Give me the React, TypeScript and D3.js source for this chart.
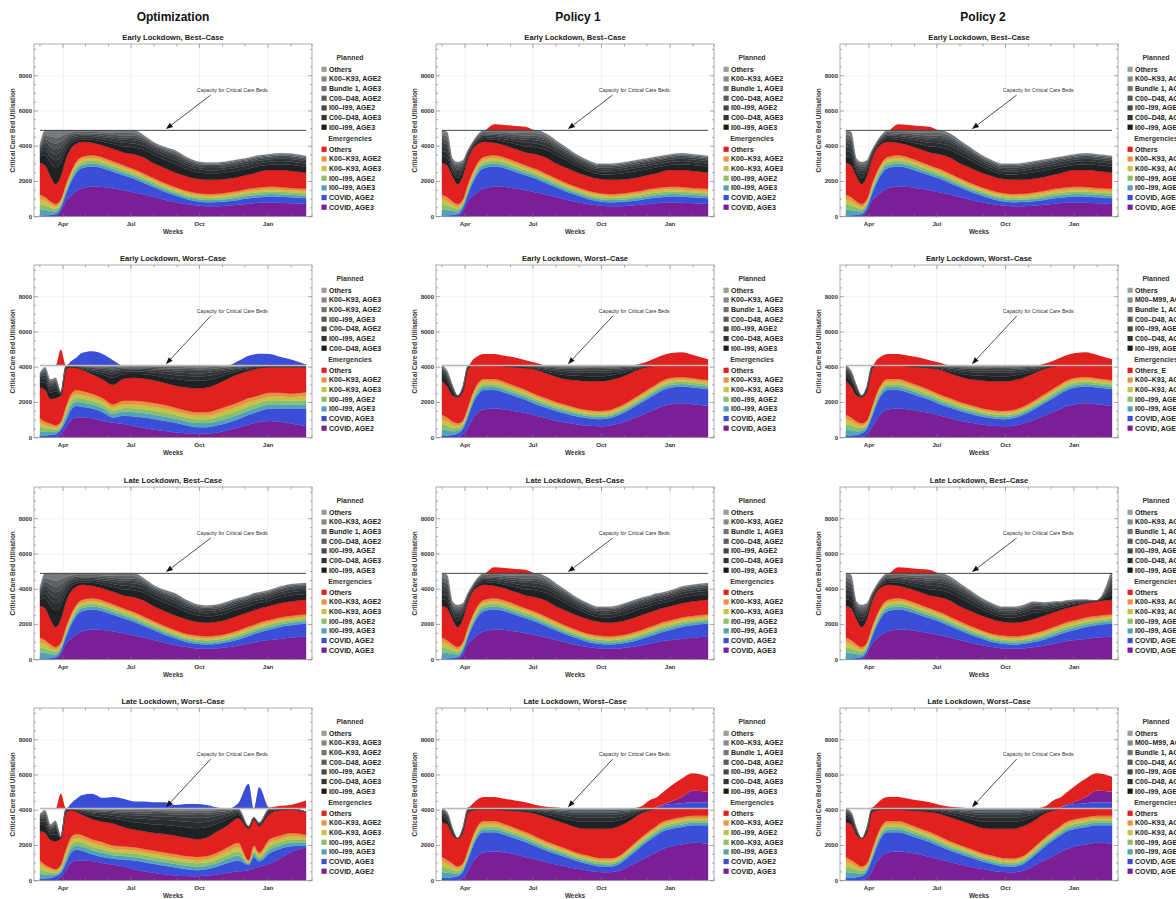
import React from "react";
import * as d3 from "d3";

// ---------- categories ----------
const DATES = ["2020-03-01","2020-03-08","2020-03-15","2020-03-22","2020-03-29","2020-04-05","2020-04-12","2020-04-19","2020-04-26","2020-05-10","2020-05-24","2020-06-07","2020-06-21","2020-07-05","2020-07-19","2020-08-02","2020-08-16","2020-08-30","2020-09-13","2020-09-27","2020-10-11","2020-10-25","2020-11-08","2020-11-22","2020-12-06","2020-12-13","2020-12-20","2021-01-03","2021-01-17","2021-01-31","2021-02-21"];
const X_DOMAIN = ["2020-02-22", "2021-03-01"];
const Y_MAX = 9800;
const Y_TICKS = [0, 2000, 4000, 6000, 8000];
const CAP_BEST = 4900;
const CAP_WORST = 4100;
const COLUMN_TITLES = ["Optimization", "Policy 1", "Policy 2"];
const ROW_TITLES = ["Early Lockdown, Best–Case", "Early Lockdown, Worst–Case", "Late Lockdown, Best–Case", "Late Lockdown, Worst–Case"];
const CAPACITY_LABEL = "Capacity for Critical Care Beds";

// ---------- emergencies (values per layer, bottom -> top) ----------
const BAND_I3 = [350,300,220,150,130,150,160,170,170,170,165,160,155,150,145,140,135,130,130,125,125,125,130,135,140,140,145,145,145,140,140];
const BAND_I2 = [300,260,200,150,120,140,150,160,160,160,155,150,145,140,135,130,125,120,120,120,120,120,125,130,135,135,140,140,140,135,135];
const BAND_K3 = [300,250,190,140,120,140,150,155,155,155,150,145,140,135,130,125,120,115,115,115,115,115,120,125,130,130,135,135,135,130,130];
const BAND_K2 = [250,220,170,130,110,130,140,150,150,150,145,140,135,130,125,120,115,110,110,110,110,110,115,120,125,125,130,130,130,125,125];

const EB_COVID3 = [0,0,0,50,300,900,1200,1450,1600,1700,1680,1600,1500,1380,1250,1100,950,820,720,640,600,600,620,680,740,770,790,800,790,760,720];
const EB_COVID2 = [50,80,100,100,200,400,800,1050,1150,1150,1070,950,850,770,650,550,450,380,280,240,220,230,260,270,310,310,310,350,340,340,330];
const EB_OTHERS = [1800,1790,1420,1130,1320,1440,1300,1015,865,715,685,705,725,845,915,835,855,825,825,800,810,800,780,790,820,840,900,950,970,970,920];

const LB_COVID3 = [0,0,0,50,300,900,1200,1450,1600,1700,1680,1600,1500,1380,1250,1100,950,820,720,640,620,640,700,800,920,980,1040,1120,1180,1250,1300];
const LB_COVID2 = [50,80,100,100,200,400,800,1050,1150,1150,1070,950,850,770,650,550,450,380,280,260,240,260,300,350,430,470,510,580,670,700,750];
const LB_OTHERS = [1800,1790,1420,1130,1320,1440,1300,1015,865,715,685,705,725,845,915,835,855,825,825,780,770,780,810,840,820,820,800,800,800,820,820];

const EW_COVID3 = [0,0,0,30,200,600,1100,1450,1600,1650,1600,1500,1400,1250,1100,950,850,750,680,650,680,800,1000,1250,1500,1620,1750,1900,1950,1900,1800];
const EW_COVID2 = [100,120,150,220,300,600,900,1050,1100,1050,950,850,750,650,600,550,500,450,420,400,420,500,600,700,800,860,900,950,950,950,950];
const EW_OTHERS = [1900,1750,1470,1480,1620,2140,1500,965,765,765,885,1055,1225,1395,1415,1435,1455,1575,1625,1680,1680,1630,1560,1440,1220,1090,900,700,650,720,820];

const LW_COVID3 = [0,0,0,30,150,550,1100,1450,1600,1650,1600,1500,1350,1200,1050,900,780,680,560,500,480,560,850,1150,1450,1600,1750,1950,2050,2150,2100];
const LW_COVID2 = [150,150,200,220,350,650,900,1100,1150,1100,1000,900,850,750,650,600,520,420,390,320,320,390,550,750,900,950,1000,1000,1000,1000,1050];
const LW_OTHERS = [1950,2020,1620,1580,1720,2140,1400,865,665,665,785,955,1125,1295,1365,1385,1405,1425,1525,1660,1680,1680,1510,1390,1120,1020,800,600,500,420,420];

const OEW_COVID2 = [0,0,0,50,200,600,1000,1150,1150,1100,950,850,780,650,550,450,380,300,250,220,230,300,420,560,750,820,900,950,900,800,650];
const OEW_COVID3 = [100,120,150,150,250,400,600,650,600,550,500,300,470,550,600,600,570,550,450,380,370,400,430,490,550,580,600,700,750,850,1000];
const OEW_I3 = [280,210,180,140,120,220,240,240,240,230,220,200,230,240,240,240,240,230,230,230,230,240,250,250,250,250,240,240,240,230,250];
const OEW_I2 = [250,200,160,120,110,200,230,230,230,210,200,190,210,230,230,230,230,210,210,210,210,230,240,240,240,230,230,230,230,210,240];
const OEW_K3 = [250,190,160,120,110,190,220,220,220,210,200,190,210,220,220,220,220,210,210,210,210,220,240,240,240,230,220,220,220,210,240];
const OEW_K2 = [220,180,150,120,110,190,210,210,210,200,180,170,200,210,210,210,210,200,200,200,200,210,220,220,220,220,210,210,210,200,220];
const OEW_OTHERS = [1750,1800,1400,1550,1500,2100,1500,1250,1200,1100,1050,1100,1250,1300,1300,1300,1250,1250,1300,1350,1400,1450,1550,1600,1550,1550,1550,1450,1450,1500,1400];

const OLW_COVID2 = [0,0,0,30,200,600,1000,1150,1150,1100,1000,900,800,650,520,430,350,300,260,250,280,350,450,530,600,700,780,960,1250,1600,1900];
const OLW_COVID3 = [100,120,150,220,250,400,600,600,550,400,350,350,400,500,530,520,500,450,390,350,370,450,550,620,300,650,320,590,550,350,100];
const OLW_I3 = [300,220,170,110,120,220,240,240,240,230,230,200,200,200,200,200,200,200,200,200,200,210,240,260,60,170,130,210,200,200,160];
const OLW_I2 = [260,200,150,100,110,200,220,220,220,210,210,190,190,190,190,190,190,190,190,190,190,200,220,250,60,160,130,200,190,190,150];
const OLW_K3 = [260,190,150,100,110,190,220,220,220,210,210,180,180,180,180,180,180,180,180,180,180,200,220,250,60,160,120,200,180,180,150];
const OLW_K2 = [230,170,130,90,110,190,220,220,220,200,200,180,180,180,180,180,180,180,180,180,180,190,220,240,70,160,120,190,180,180,140];
const OLW_OTHERS = [1650,1800,1550,1600,1500,2100,1500,1250,1150,1150,1150,1250,1100,1000,1000,1000,1050,1050,1050,1000,1050,1200,1250,1400,1800,1500,1500,1450,1450,1350,1300];

// ---------- planned (values per layer, bottom = darkest -> top = lightest) ----------
const OB_P1 = [350,580,750,950,750,450,270,180,150,170,210,270,330,380,440,470,470,480,400,370,360,360,370,370,340,350,320,300,330,350,330];
const OB_P2 = [200,300,350,400,350,250,170,120,100,110,140,180,220,230,220,210,210,220,200,180,180,180,180,180,170,180,170,170,180,180,180];
const OB_P3 = [150,250,300,330,300,190,130,100,90,100,110,140,170,180,170,160,160,160,150,140,130,130,140,140,130,130,130,120,130,140,130];
const OB_P4 = [100,200,270,300,270,160,100,80,70,70,90,100,120,130,120,110,110,120,110,100,100,100,100,100,100,100,100,100,100,100,100];
const OB_P5 = [90,200,280,320,280,170,100,80,70,70,90,110,120,130,100,90,90,100,90,80,80,80,80,80,80,80,80,80,80,80,80];
const OB_P6 = [80,220,300,350,300,180,110,90,80,80,100,120,140,150,100,80,80,90,80,70,70,70,70,70,70,70,70,70,70,70,70];
const OB_P7 = [80,250,350,400,350,200,120,100,90,100,110,130,150,150,100,80,80,80,70,60,60,60,60,60,60,60,60,60,60,60,60];

const PB_P1 = [380,430,240,340,250,130,100,130,160,170,210,270,330,380,430,480,420,350,300,280,300,340,370,370,340,340,300,300,330,330,330];
const PB_P2 = [300,300,180,220,170,90,70,100,110,110,140,180,220,230,230,220,200,180,160,150,160,170,180,180,170,170,160,170,180,180,180];
const PB_P3 = [250,250,150,180,130,70,60,80,90,100,110,140,170,180,180,170,160,140,130,120,130,130,140,140,130,130,130,120,130,130,130];
const PB_P4 = [220,220,120,140,100,60,50,60,70,70,90,100,120,130,130,120,110,100,100,90,100,100,100,100,100,100,100,100,100,100,100];
const PB_P5 = [220,220,110,130,90,50,40,60,70,70,90,110,120,130,120,110,100,90,80,80,80,80,80,80,80,80,80,80,80,80,80];
const PB_P6 = [230,230,100,120,80,50,40,60,70,80,100,120,140,150,130,100,80,70,70,70,70,70,70,70,70,70,70,70,70,70,70];
const PB_P7 = [250,250,100,120,80,50,40,60,80,100,110,130,150,150,130,100,80,70,60,60,60,60,60,60,60,60,60,60,60,60,60];

const P2LB_P1 = [380,430,240,340,250,130,100,130,160,170,210,270,330,380,430,480,420,350,300,280,300,340,370,210,150,130,110,90,40,20,300];
const P2LB_P2 = [300,300,180,220,170,90,70,100,110,110,140,180,220,230,230,220,200,180,160,150,160,170,180,150,120,100,90,70,40,10,300];
const P2LB_P3 = [250,250,150,180,130,70,60,80,90,100,110,140,170,180,180,170,160,140,130,120,130,130,140,120,100,80,80,60,40,10,250];
const P2LB_P4 = [220,220,120,140,100,60,50,60,70,70,90,100,120,130,130,120,110,100,100,90,100,100,100,90,80,70,60,50,30,10,220];
const P2LB_P5 = [220,220,110,130,90,50,40,60,70,70,90,110,120,130,120,110,100,90,80,80,80,80,80,70,60,50,40,30,20,0,220];
const P2LB_P6 = [230,230,100,120,80,50,40,60,70,80,100,120,140,150,130,100,80,70,70,70,70,70,70,60,50,40,40,30,20,0,230];
const P2LB_P7 = [250,250,100,120,80,50,40,60,80,100,110,130,150,150,130,100,80,70,60,60,60,60,60,50,40,30,30,20,10,0,250];

const OEW_P1 = [300,440,350,370,50,50,20,20,50,130,270,400,250,220,250,270,320,380,410,430,410,350,250,160,80,70,20,20,20,20,20];
const OEW_P2 = [160,230,200,210,40,40,20,30,40,90,150,200,140,130,140,160,190,220,240,250,240,200,140,90,60,40,30,20,20,20,20];
const OEW_P3 = [120,170,150,160,30,30,20,20,40,70,110,150,100,100,100,120,140,160,170,180,170,150,100,70,40,30,20,20,20,20,20];
const OEW_P4 = [80,120,110,110,20,20,10,20,30,60,80,100,70,70,70,80,100,110,120,120,120,100,70,50,30,20,20,10,10,10,10];
const OEW_P5 = [70,110,100,100,20,20,10,20,30,50,70,90,70,60,70,80,90,100,110,110,110,90,70,50,30,20,20,10,10,10,10];
const OEW_P6 = [60,110,90,100,20,20,10,20,30,50,60,80,60,60,60,70,80,90,100,100,100,80,60,40,30,20,20,10,10,10,10];
const OEW_P7 = [60,120,100,100,20,20,10,20,30,50,60,80,60,60,60,70,80,90,100,110,100,80,60,40,30,20,20,10,10,10,10];

const OLW_P1 = [380,440,280,370,20,50,20,50,110,200,260,280,360,420,460,490,510,550,580,630,580,440,320,190,50,20,50,110,20,20,0];
const OLW_P2 = [180,230,170,210,20,40,20,40,70,110,140,160,200,230,250,270,280,300,320,340,320,260,190,110,30,20,40,60,20,10,0];
const OLW_P3 = [130,170,120,160,20,30,20,30,50,80,100,120,150,170,180,200,210,220,240,250,240,190,140,80,20,20,30,40,20,10,0];
const OLW_P4 = [90,120,90,110,10,20,10,20,30,60,70,80,100,110,120,130,130,140,150,160,150,120,90,50,20,10,20,30,10,10,0];
const OLW_P5 = [80,110,80,100,10,20,10,20,30,50,60,70,80,90,100,110,110,120,130,130,130,100,70,40,10,10,20,20,10,0,0];
const OLW_P6 = [70,110,80,100,10,20,10,20,30,50,60,70,80,90,100,100,110,110,120,120,120,100,70,40,10,10,20,20,10,0,0];
const OLW_P7 = [70,120,80,100,10,20,10,20,30,50,60,70,80,90,90,100,100,110,110,120,110,90,70,40,10,10,20,20,10,0,0];

const PEW_P1 = [300,300,200,20,100,50,20,20,20,20,20,20,20,50,110,180,240,260,290,290,270,230,110,40,20,20,20,20,20,20,20];
const PEW_P2 = [170,170,110,20,60,40,10,10,10,10,10,30,40,60,100,140,170,180,190,190,180,140,100,40,10,10,10,10,10,10,10];
const PEW_P3 = [120,120,80,20,40,30,10,10,10,10,10,20,30,40,70,100,120,130,130,130,120,100,70,30,10,10,10,10,10,10,10];
const PEW_P4 = [90,90,60,10,30,20,10,10,10,10,10,20,20,30,50,70,80,90,90,90,90,70,50,30,10,10,10,10,10,10,10];
const PEW_P5 = [80,80,50,10,30,20,10,10,10,10,10,10,20,30,40,60,70,70,70,70,70,60,40,20,10,10,10,10,10,10,10];
const PEW_P6 = [70,70,50,10,20,20,10,10,10,10,10,10,20,20,40,50,60,60,70,70,60,50,40,20,10,10,10,10,10,10,10];
const PEW_P7 = [70,70,50,10,20,20,10,10,10,10,10,10,20,20,40,50,60,60,60,60,60,50,40,20,10,10,10,10,10,10,10];

const PLW_P1 = [260,210,100,0,100,50,20,20,20,20,20,40,50,100,160,230,280,360,390,390,390,330,230,100,30,0,0,0,0,0,0];
const PLW_P2 = [160,140,80,0,60,40,20,10,10,10,20,30,40,60,100,140,180,220,230,230,230,200,140,60,20,0,0,0,0,0,0];
const PLW_P3 = [110,100,60,0,40,30,20,10,10,10,20,30,30,40,70,100,130,160,170,170,170,150,100,40,10,0,0,0,0,0,0];
const PLW_P4 = [80,70,40,0,30,20,10,10,10,10,10,20,20,30,50,70,90,110,110,110,110,100,70,30,10,0,0,0,0,0,0];
const PLW_P5 = [70,60,40,0,30,20,10,10,10,10,10,10,20,30,40,60,80,90,90,90,90,80,60,30,10,0,0,0,0,0,0];
const PLW_P6 = [60,60,40,0,20,20,10,10,10,10,10,10,20,20,40,50,70,80,80,80,80,70,50,20,10,0,0,0,0,0,0];
const PLW_P7 = [60,60,40,0,20,20,10,10,10,10,10,10,20,20,40,50,70,80,80,80,80,70,50,20,10,0,0,0,0,0,0];

// ---------- demand above capacity ----------
const PB_OVER_RED = [0,0,0,0,0,0,0,0,0,350,300,250,200,0,0,0,0,0,0,0,0,0,0,0,0,0,0,0,0,0,0];
const OEW_OVER_BLUE = [0,0,0,0,0,0,250,450,700,800,650,300,0,0,0,0,0,0,0,0,0,0,0,250,550,620,670,650,500,350,50];
const OEW_OVER_RED = [0,0,0,0,900,0,0,0,0,0,0,0,0,0,0,0,0,0,0,0,0,0,0,0,0,0,0,0,0,0,0];
const EW_OVER_RED = [0,0,0,0,0,0,350,550,650,650,550,450,300,150,0,0,0,0,0,0,0,0,0,100,300,420,550,700,750,600,350];
const OLW_OVER_BLUE = [0,0,0,0,0,0,300,550,750,830,600,650,550,400,400,350,350,200,250,250,200,50,0,300,1400,0,1200,0,0,0,0];
const OLW_OVER_RED = [0,0,0,0,850,0,0,0,0,0,0,0,0,0,0,0,0,0,0,0,0,0,0,0,0,0,0,50,150,200,450];
const LW_OVER_BLUE = [0,0,0,0,0,0,0,0,0,0,0,0,0,0,0,0,0,0,0,0,0,0,0,0,0,50,150,250,300,350,350];
const LW_OVER_PURPLE = [0,0,0,0,0,0,0,0,0,0,0,0,0,0,0,0,0,0,0,0,0,0,0,0,0,0,50,150,350,650,600];
const LW_OVER_RED = [0,0,0,0,0,50,300,550,650,650,550,450,350,200,100,50,0,0,0,0,0,0,0,100,500,550,630,900,1050,1000,850];

// ---------- legends (top -> bottom) ----------
const LP_STD = ["Others","K00–K93, AGE2","Bundle 1, AGE3","C00–D48, AGE2","I00–I99, AGE2","C00–D48, AGE3","I00–I99, AGE3"];
const LE_STD = ["Others","K00–K93, AGE2","K00–K93, AGE3","I00–I99, AGE2","I00–I99, AGE3","COVID, AGE2","COVID, AGE3"];
const LP_OPT_EW = ["Others","K00–K93, AGE3","K00–K93, AGE2","I00–I99, AGE3","C00–D48, AGE2","I00–I99, AGE2","C00–D48, AGE3"];
const LP_OPT_LW = ["Others","K00–K93, AGE3","K00–K93, AGE2","C00–D48, AGE2","I00–I99, AGE2","C00–D48, AGE3","I00–I99, AGE3"];
const LE_OPT_W = ["Others","K00–K93, AGE2","K00–K93, AGE3","I00–I99, AGE2","I00–I99, AGE3","COVID, AGE3","COVID, AGE2"];
const LE_P1_LW = ["Others","K00–K93, AGE2","I00–I99, AGE2","K00–K93, AGE3","I00–I99, AGE3","COVID, AGE2","COVID, AGE3"];
const LP_P2_M = ["Others","M00–M99, AGE2","Bundle 1, AGE3","C00–D48, AGE2","I00–I99, AGE2","C00–D48, AGE3","I00–I99, AGE3"];
const LE_P2_EW = ["Others_E","K00–K93, AGE2","K00–K93, AGE3","I00–I99, AGE2","I00–I99, AGE3","COVID, AGE2","COVID, AGE3"];

// ---------- styles ----------
const PURPLE = "#7b1f96", BLUE = "#3b4ed8", TEAL = "#52a2bb", GREEN = "#88c06e", YELLOW = "#c9c246", ORANGE = "#e8923f", RED = "#e0211f";
const E_COLORS = [PURPLE, BLUE, TEAL, GREEN, YELLOW, ORANGE, RED];
const P_COLORS = ["#1f2123", "#2a2d30", "#33363a", "#3e4144", "#4c4f52", "#5f6265", "#787b7e"];
const P_LEGEND = ["#1a1a1a", "#333333", "#474747", "#5c5c5c", "#747474", "#888888", "#9c9c9c"];
const FONT = "'Liberation Sans', Arial, sans-serif";
const COL_X = [0, 402, 806];
const ROW_Y = [0, 221, 443, 664];
const PLOT = { left: 34, right: 312, top: 44, bottom: 216.7 };

const set = (a: number[][]) => a;
const EM_EB = set([EB_COVID3, EB_COVID2, BAND_I3, BAND_I2, BAND_K3, BAND_K2, EB_OTHERS]);
const EM_LB = set([LB_COVID3, LB_COVID2, BAND_I3, BAND_I2, BAND_K3, BAND_K2, LB_OTHERS]);
const EM_EW = set([EW_COVID3, EW_COVID2, BAND_I3, BAND_I2, BAND_K3, BAND_K2, EW_OTHERS]);
const EM_LW = set([LW_COVID3, LW_COVID2, BAND_I3, BAND_I2, BAND_K3, BAND_K2, LW_OTHERS]);
const EM_OEW = set([OEW_COVID2, OEW_COVID3, OEW_I3, OEW_I2, OEW_K3, OEW_K2, OEW_OTHERS]);
const EM_OLW = set([OLW_COVID2, OLW_COVID3, OLW_I3, OLW_I2, OLW_K3, OLW_K2, OLW_OTHERS]);
const PL_OB = set([OB_P1, OB_P2, OB_P3, OB_P4, OB_P5, OB_P6, OB_P7]);
const PL_PB = set([PB_P1, PB_P2, PB_P3, PB_P4, PB_P5, PB_P6, PB_P7]);
const PL_P2LB = set([P2LB_P1, P2LB_P2, P2LB_P3, P2LB_P4, P2LB_P5, P2LB_P6, P2LB_P7]);
const PL_OEW = set([OEW_P1, OEW_P2, OEW_P3, OEW_P4, OEW_P5, OEW_P6, OEW_P7]);
const PL_OLW = set([OLW_P1, OLW_P2, OLW_P3, OLW_P4, OLW_P5, OLW_P6, OLW_P7]);
const PL_PEW = set([PEW_P1, PEW_P2, PEW_P3, PEW_P4, PEW_P5, PEW_P6, PEW_P7]);
const PL_PLW = set([PLW_P1, PLW_P2, PLW_P3, PLW_P4, PLW_P5, PLW_P6, PLW_P7]);

const PANELS = [
  { row: 0, col: 0, cap: CAP_BEST, em: EM_EB, pl: PL_OB, over: [], lp: LP_STD, le: LE_STD },
  { row: 0, col: 1, cap: CAP_BEST, em: EM_EB, pl: PL_PB, over: [{ c: RED, v: PB_OVER_RED }], lp: LP_STD, le: LE_STD },
  { row: 0, col: 2, cap: CAP_BEST, em: EM_EB, pl: PL_PB, over: [{ c: RED, v: PB_OVER_RED }], lp: LP_STD, le: LE_STD },
  { row: 1, col: 0, cap: CAP_WORST, em: EM_OEW, pl: PL_OEW, over: [{ c: BLUE, v: OEW_OVER_BLUE }, { c: RED, v: OEW_OVER_RED }], lp: LP_OPT_EW, le: LE_OPT_W },
  { row: 1, col: 1, cap: CAP_WORST, em: EM_EW, pl: PL_PEW, over: [{ c: RED, v: EW_OVER_RED }], lp: LP_STD, le: LE_STD },
  { row: 1, col: 2, cap: CAP_WORST, em: EM_EW, pl: PL_PEW, over: [{ c: RED, v: EW_OVER_RED }], lp: LP_P2_M, le: LE_P2_EW },
  { row: 2, col: 0, cap: CAP_BEST, em: EM_LB, pl: PL_OB, over: [], lp: LP_STD, le: LE_STD },
  { row: 2, col: 1, cap: CAP_BEST, em: EM_LB, pl: PL_PB, over: [{ c: RED, v: PB_OVER_RED }], lp: LP_STD, le: LE_STD },
  { row: 2, col: 2, cap: CAP_BEST, em: EM_LB, pl: PL_P2LB, over: [{ c: RED, v: PB_OVER_RED }], lp: LP_STD, le: LE_STD },
  { row: 3, col: 0, cap: CAP_WORST, em: EM_OLW, pl: PL_OLW, over: [{ c: BLUE, v: OLW_OVER_BLUE }, { c: RED, v: OLW_OVER_RED }], lp: LP_OPT_LW, le: LE_OPT_W },
  { row: 3, col: 1, cap: CAP_WORST, em: EM_LW, pl: PL_PLW, over: [{ c: BLUE, v: LW_OVER_BLUE }, { c: PURPLE, v: LW_OVER_PURPLE }, { c: RED, v: LW_OVER_RED }], lp: LP_STD, le: LE_P1_LW },
  { row: 3, col: 2, cap: CAP_WORST, em: EM_LW, pl: PL_PLW, over: [{ c: BLUE, v: LW_OVER_BLUE }, { c: PURPLE, v: LW_OVER_PURPLE }, { c: RED, v: LW_OVER_RED }], lp: LP_P2_M, le: LE_STD },
];

const parse = d3.timeParse("%Y-%m-%d");
const dates = DATES.map((d) => parse(d) as Date);
const ANNOT = { text: "2020-11-14", textV: 7170, from: "2020-10-16", fromV: 6900, to: "2020-08-17" };

function Panel({ p }: { p: any }) {
  const ox = COL_X[p.col];
  const oy = ROW_Y[p.row];
  const x = d3.scaleTime().domain(X_DOMAIN.map((d) => parse(d) as Date)).range([ox + PLOT.left, ox + PLOT.right]);
  const y = d3.scaleLinear().domain([0, Y_MAX]).range([oy + PLOT.bottom, oy + PLOT.top]);
  const layers: number[][] = [...p.em, ...p.pl];
  const colors = [...E_COLORS, ...P_COLORS];
  const rows = dates.map((d, i) => {
    const r: any = { date: d };
    layers.forEach((arr, k) => (r["k" + k] = arr[i]));
    return r;
  });
  const series = d3.stack<any>().keys(layers.map((_, k) => "k" + k))(rows);
  const area = d3.area<any>().x((d) => x(d.data.date)).y0((d) => y(d[0])).y1((d) => y(d[1])).curve(d3.curveMonotoneX);

  const oRows = dates.map((d, i) => {
    const r: any = { date: d };
    p.over.forEach((o: any, k: number) => (r["o" + k] = o.v[i]));
    return r;
  });
  const oSeries = p.over.length ? d3.stack<any>().keys(p.over.map((_: any, k: number) => "o" + k))(oRows) : [];
  const oArea = d3.area<any>().x((d) => x(d.data.date)).y0((d) => y(p.cap + d[0])).y1((d) => y(p.cap + d[1])).curve(d3.curveMonotoneX);

  const clipId = `clip-${p.row}-${p.col}`;
  const months = d3.timeMonth.range(new Date(2020, 2, 1), new Date(2021, 2, 2));
  const labeled = [3, 6, 9, 0];
  const gridMonths = months.filter((m) => labeled.includes(m.getMonth()));
  const minorY = d3.range(0, 9801, 500);
  const yTop = oy + PLOT.top;
  const yBot = oy + PLOT.bottom;
  const xL = ox + PLOT.left;
  const xR = ox + PLOT.right;
  const worst = p.cap === CAP_WORST;

  const tip = [x(parse(ANNOT.to) as Date), y(p.cap + 70)];
  const st = [x(parse(ANNOT.from) as Date), y(ANNOT.fromV)];
  const dx = tip[0] - st[0], dy = tip[1] - st[1];
  const len = Math.hypot(dx, dy);
  const ux = dx / len, uy = dy / len;
  const hl = 7, hw = 2.6;
  const bx = tip[0] - ux * hl, by = tip[1] - uy * hl;
  const head = `${tip[0]},${tip[1]} ${bx - uy * hw},${by + ux * hw} ${bx + uy * hw},${by - ux * hw}`;

  const legX = ox + 321.5;
  const txtX = ox + 329;
  const headX = ox + 350;
  const step = 9.65;

  return (
    <g>
      <text x={ox + 173} y={oy + 37} textAnchor="middle" dominantBaseline="central" fontFamily={FONT} fontWeight="bold" fontSize={7.6} fill="#222">
        {ROW_TITLES[p.row]}
      </text>
      <defs>
        <clipPath id={clipId}>
          <rect x={xL} y={y(p.cap)} width={xR - xL} height={yBot - y(p.cap)} />
        </clipPath>
      </defs>
      {gridMonths.map((m, i) => (
        <line key={"gx" + i} x1={x(m)} x2={x(m)} y1={yTop} y2={yBot} stroke="#e6e6e6" strokeWidth={0.6} />
      ))}
      {Y_TICKS.slice(1).map((v) => (
        <line key={"gy" + v} x1={xL} x2={xR} y1={y(v)} y2={y(v)} stroke="#ececec" strokeWidth={0.6} />
      ))}
      <g clipPath={`url(#${clipId})`}>
        {series.map((s, k) => (
          <path key={k} d={area(s as any) || ""} fill={colors[k]} stroke={colors[k]} strokeWidth={0.3} />
        ))}
      </g>
      {oSeries.map((s: any, k: number) => (
        <path key={"o" + k} d={oArea(s) || ""} fill={p.over[k].c} />
      ))}
      <line x1={x(dates[0])} x2={x(dates[dates.length - 1])} y1={y(p.cap)} y2={y(p.cap)}
        stroke={worst ? "#b8b8b8" : "#333"} strokeWidth={worst ? 1.5 : 0.9} />
      <rect x={xL} y={yTop} width={xR - xL} height={yBot - yTop} fill="none" stroke="#9a9a9a" strokeWidth={0.8} />
      {months.map((m, i) => {
        const major = labeled.includes(m.getMonth());
        const l = major ? 4 : 2.5;
        const xx = x(m);
        return (
          <g key={"xt" + i}>
            <line x1={xx} x2={xx} y1={yBot} y2={yBot - l} stroke="#777" strokeWidth={0.6} />
            <line x1={xx} x2={xx} y1={yTop} y2={yTop + l} stroke="#777" strokeWidth={0.6} />
            {major && (
              <text x={xx} y={yBot + 6.5} textAnchor="middle" dominantBaseline="central" fontFamily={FONT} fontWeight="bold" fontSize={6.2} fill="#333">
                {d3.timeFormat("%b")(m)}
              </text>
            )}
          </g>
        );
      })}
      {minorY.map((v) => {
        const major = Y_TICKS.includes(v);
        const l = major ? 4 : 2;
        return (
          <g key={"yt" + v}>
            <line x1={xL} x2={xL + l} y1={y(v)} y2={y(v)} stroke="#777" strokeWidth={0.6} />
            <line x1={xR} x2={xR - l} y1={y(v)} y2={y(v)} stroke="#777" strokeWidth={0.6} />
            {major && (
              <text x={xL - 2} y={y(v)} textAnchor="end" dominantBaseline="central" fontFamily={FONT} fontWeight="bold" fontSize={6} fill="#333">
                {v}
              </text>
            )}
          </g>
        );
      })}
      <text x={ox + 173} y={yBot + 14.5} textAnchor="middle" dominantBaseline="central" fontFamily={FONT} fontWeight="bold" fontSize={6.4} fill="#333">
        Weeks
      </text>
      <text transform={`translate(${ox + 12},${(yTop + yBot) / 2}) rotate(-90)`} textAnchor="middle" dominantBaseline="central" fontFamily={FONT} fontWeight="bold" fontSize={6.4} fill="#333">
        Critical Care Bed Utilisation
      </text>
      <text x={x(parse(ANNOT.text) as Date)} y={y(ANNOT.textV)} textAnchor="middle" dominantBaseline="central" fontFamily={FONT} fontSize={5.2} fill="#333">
        {CAPACITY_LABEL}
      </text>
      <line x1={st[0]} y1={st[1]} x2={bx} y2={by} stroke="#222" strokeWidth={0.8} />
      <polygon points={head} fill="#111" />
      <text x={headX} y={oy + 57.3} textAnchor="middle" dominantBaseline="central" fontFamily={FONT} fontWeight="bold" fontSize={7} fill="#333">
        Planned
      </text>
      {p.lp.map((t: string, i: number) => (
        <g key={"lp" + i}>
          <rect x={legX} y={oy + 69.3 + i * step - 2.6} width={5.2} height={5.2} fill={P_LEGEND[6 - i]} />
          <text x={txtX} y={oy + 69.3 + i * step} dominantBaseline="central" fontFamily={FONT} fontWeight="bold" fontSize={7} fill="#222">
            {t}
          </text>
        </g>
      ))}
      <text x={headX} y={oy + 138.3} textAnchor="middle" dominantBaseline="central" fontFamily={FONT} fontWeight="bold" fontSize={7} fill="#333">
        Emergencies
      </text>
      {p.le.map((t: string, i: number) => (
        <g key={"le" + i}>
          <rect x={legX} y={oy + 149.3 + i * step - 2.6} width={5.2} height={5.2} fill={E_COLORS[6 - i]} />
          <text x={txtX} y={oy + 149.3 + i * step} dominantBaseline="central" fontFamily={FONT} fontWeight="bold" fontSize={7} fill="#222">
            {t}
          </text>
        </g>
      ))}
    </g>
  );
}

const TITLE_X = [173, 578, 983];

export default function App() {
  return (
    <svg width={1176} height={899} style={{ position: "absolute", left: 0, top: 0, background: "#fff" }}>
      <rect x={0} y={0} width={1176} height={899} fill="#fff" />
      {COLUMN_TITLES.map((t, i) => (
        <text key={t} x={TITLE_X[i]} y={17} textAnchor="middle" dominantBaseline="central" fontFamily={FONT} fontWeight="bold" fontSize={12} fill="#111">
          {t}
        </text>
      ))}
      {PANELS.map((p, i) => (
        <Panel key={i} p={p} />
      ))}
    </svg>
  );
}
